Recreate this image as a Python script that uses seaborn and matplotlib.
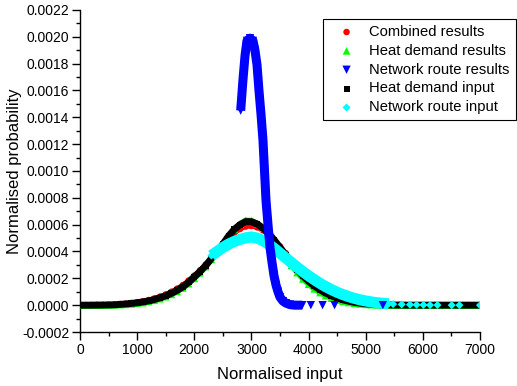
import matplotlib
matplotlib.use("Agg")
import matplotlib.pyplot as plt
import seaborn as sns
from matplotlib.ticker import MultipleLocator, FormatStrFormatter

# ---------------- data ----------------
grid_x = list(range(0, 7001, 100))

combined_y = [0, 0, 0.000001, 0.000001, 0.000002, 0.000003, 0.000005, 0.000008, 0.000011, 0.000016,
              0.000022, 0.000029, 0.000038, 0.00005, 0.000064, 0.00008, 0.0001, 0.000123, 0.00015, 0.000183,
              0.00022, 0.00026, 0.000303, 0.00035, 0.000398, 0.000445, 0.000495, 0.000537, 0.000568, 0.000586,
              0.00059, 0.00058, 0.000558, 0.000525, 0.000484, 0.000438, 0.000388, 0.000336, 0.000286, 0.00024,
              0.000198, 0.000161, 0.000129, 0.000102, 0.000079, 0.000061, 0.000046, 0.000034, 0.000025, 0.000018,
              0.000012, 0.000008, 0.000005, 0.000003, 0.000002, 0.000001, 0.000001, 0, 0, 0,
              0, 0, 0, 0, 0, 0, 0, 0, 0, 0, 0]

heat_res_y = [0, 0, 0, 0, 0.000001, 0.000001, 0.000002, 0.000004, 0.000006, 0.000009,
              0.000014, 0.000019, 0.000027, 0.000036, 0.000048, 0.000063, 0.00008, 0.000102, 0.000128, 0.00016,
              0.000199, 0.000241, 0.000288, 0.00034, 0.000396, 0.000455, 0.000515, 0.000567, 0.000605, 0.000632,
              0.00063, 0.000608, 0.000574, 0.000529, 0.000476, 0.000416, 0.000355, 0.000296, 0.000243, 0.000196,
              0.000156, 0.000122, 0.000094, 0.000071, 0.000053, 0.000039, 0.000028, 0.00002, 0.000014, 0.000009,
              0.000006, 0.000004, 0.000002, 0.000001, 0, 0, 0, 0, 0, 0,
              0, 0, 0, 0, 0, 0, 0, 0, 0, 0, 0]

heat_in_y = [0, 0, 0, 0.000001, 0.000001, 0.000002, 0.000003, 0.000006, 0.000009, 0.000013,
             0.000018, 0.000024, 0.000032, 0.000042, 0.000055, 0.00007, 0.000088, 0.00011, 0.000137, 0.00017,
             0.00021, 0.00025, 0.000295, 0.000348, 0.0004, 0.000455, 0.000515, 0.000565, 0.0006, 0.000623,
             0.000622, 0.000605, 0.000575, 0.000535, 0.000485, 0.00043, 0.000372, 0.000318, 0.000265, 0.000218,
             0.000178, 0.000143, 0.000115, 0.00009, 0.00007, 0.000053, 0.00004, 0.00003, 0.000021, 0.000015,
             0.00001, 0.000007, 0.000005, 0.000003, 0.000002, 0.000001, 0.000001, 0, 0, 0,
             0, 0, 0, 0, 0, 0, 0, 0, 0, 0, 0]

net_in_x = list(range(2300, 5401, 100))
net_in_y = [0.00037, 0.0004, 0.00043, 0.000455, 0.000475, 0.00049, 0.000502, 0.000508,
            0.0005, 0.000482, 0.000455, 0.000423, 0.000388, 0.000352, 0.000317, 0.000283,
            0.00025, 0.000219, 0.00019, 0.000163, 0.000138, 0.000116, 0.000096, 0.000079,
            0.000064, 0.000051, 0.00004, 0.000031, 0.000024, 0.000018, 0.000014, 0.00001]
net_in_sparse_x = [5480, 5630, 5775, 5890, 6010, 6125, 6255, 6505, 6640, 7000]
net_in_sparse_y = [0.000008, 0.000006, 0.000004, 0.000003, 0.000002, 0.000001, 0.000001, 0, 0, 0]

net_res_x = [2812, 2852, 2888, 2922, 2975, 3028, 3062, 3098, 3132, 3168, 3202, 3229, 3255,
             3290, 3325, 3360, 3395, 3430, 3465, 3500, 3552, 3605, 3675, 3750, 3820, 3890]
net_res_y = [0.00145, 0.00168, 0.00186, 0.00197, 0.00199, 0.00197, 0.0019, 0.00179, 0.0016,
             0.00142, 0.00123, 0.001, 0.00078, 0.0006, 0.00043, 0.00032, 0.00022, 0.00015,
             0.0001, 0.00006, 0.00003, 0.000015, 0.000004, 0, 0, 0]
net_res_sparse_x = [4040, 4245, 4455, 5300]
net_res_sparse_y = [0, 0, 0, 0]

labels = ["Combined results", "Heat demand results", "Network route results",
          "Heat demand input", "Network route input"]

# ---------------- style ----------------
sns.set_style("ticks", {"axes.edgecolor": "black", "xtick.color": "black", "ytick.color": "black",
                        "text.color": "black", "axes.labelcolor": "black"})
plt.rcParams["font.family"] = ["Liberation Sans", "DejaVu Sans"]

fig = plt.figure(figsize=(5.17, 3.86), dpi=100)
ax = fig.add_axes([80 / 517, 1 - 332 / 386, 400 / 517, 322 / 386])

specs = [
    # label, line x, line y, extra x, extra y, color, marker, s, lw, z
    (labels[0], grid_x, combined_y, [], [], "#ff0000", "o", 22, 3.5, 1),
    (labels[1], grid_x, heat_res_y, [], [], "#00ff00", "^", 30, 4.0, 2),
    (labels[2], net_res_x, net_res_y, net_res_sparse_x, net_res_sparse_y, "#0000ff", "v", 36, 6.5, 5),
    (labels[3], grid_x, heat_in_y, [], [], "#000000", "s", 18, 5.0, 3),
    (labels[4], net_in_x, net_in_y, net_in_sparse_x, net_in_sparse_y, "#00ffff", "D", 17, 8.0, 4),
]

for lab, lx, ly, ex, ey, col, mk, s, lw, z in specs:
    sns.lineplot(x=lx, y=ly, color=col, lw=lw, sort=False, estimator=None, ax=ax,
                 zorder=2 * z, legend=False, solid_capstyle="butt")
    sns.scatterplot(x=list(lx) + list(ex), y=list(ly) + list(ey), color=col, marker=mk, s=s,
                    edgecolor="none", linewidth=0, ax=ax, zorder=2 * z + 1, label=lab)

ax.set_xlim(0, 7000)
ax.set_ylim(-0.0002, 0.0022)
ax.xaxis.set_major_locator(MultipleLocator(1000))
ax.xaxis.set_minor_locator(MultipleLocator(500))
ax.yaxis.set_major_locator(MultipleLocator(0.0002))
ax.yaxis.set_minor_locator(MultipleLocator(0.0001))
ax.yaxis.set_major_formatter(FormatStrFormatter("%.4f"))

sns.despine(ax=ax)
for sp in ("left", "bottom"):
    ax.spines[sp].set_linewidth(1.0)
ax.tick_params(which="major", length=5.8, width=1.0, direction="out", labelsize=10, pad=2)
ax.tick_params(which="minor", length=3, width=1.0, direction="out")

ax.set_xlabel("Normalised input", fontsize=12)
ax.set_ylabel("Normalised probability", fontsize=12)
ax.xaxis.set_label_coords(0.5, -0.11)
ax.yaxis.set_label_coords(-0.145, 0.5)

leg = ax.legend(loc="upper left", bbox_to_anchor=(323 / 517, 1 - 19 / 386),
                bbox_transform=fig.transFigure, fontsize=10.6, frameon=True, fancybox=False,
                framealpha=1, edgecolor="black", handlelength=2.4, handletextpad=0.35,
                borderpad=0.4, labelspacing=0.33, borderaxespad=0, scatterpoints=1)
leg.get_frame().set_linewidth(0.8)

fig.savefig("out.png", dpi=100)
